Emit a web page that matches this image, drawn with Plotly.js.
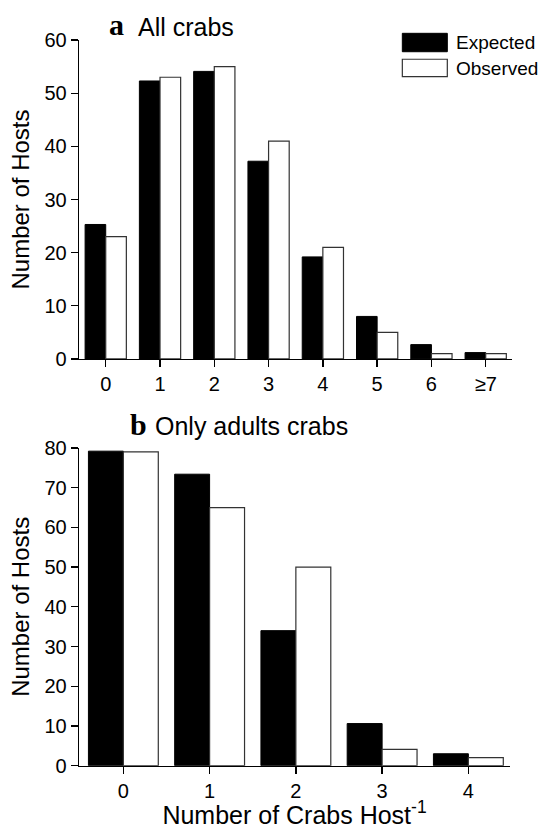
<!DOCTYPE html>
<html>
<head>
<meta charset="utf-8">
<script src="https://cdn.plot.ly/plotly-3.0.1.min.js"></script>
<style>html,body{margin:0;padding:0;background:#fff;}#chart{width:542px;height:829px;}</style>
</head>
<body>
<div id="chart"></div>
<script>
// Panel a: all crabs
const catsA = ["0", "1", "2", "3", "4", "5", "6", "≥7"];
const expectedA = [25.3, 52.3, 54.1, 37.2, 19.2, 8.0, 2.7, 1.2];
const observedA = [23, 53, 55, 41, 21, 5, 1, 1];
// Panel b: only adult crabs
const catsB = ["0", "1", "2", "3", "4"];
const expectedB = [79.2, 73.4, 34, 10.6, 3.0];
const observedB = [79, 65, 50, 4.1, 2];

const FONT = "Liberation Sans, Arial, sans-serif";
const SERIF = "Liberation Serif, Times New Roman, serif";

const blackBar = {color: "#000", line: {color: "#000", width: 1}};
const whiteBar = {color: "#fff", line: {color: "#333", width: 1.2}};
const wA = 0.38, wB = 0.405;

const data = [
  {type: "bar", x: catsA, y: expectedA, name: "Expected", marker: blackBar, width: wA, offset: -wA, xaxis: "x", yaxis: "y", showlegend: false},
  {type: "bar", x: catsA, y: observedA, name: "Observed", marker: whiteBar, width: wA, offset: 0, xaxis: "x", yaxis: "y", showlegend: false},
  {type: "bar", x: catsB, y: expectedB, name: "Expected", marker: blackBar, width: wB, offset: -wB, xaxis: "x2", yaxis: "y2", showlegend: false},
  {type: "bar", x: catsB, y: observedB, name: "Observed", marker: whiteBar, width: wB, offset: 0, xaxis: "x2", yaxis: "y2", showlegend: false}
];

const axBase = {
  showgrid: false, zeroline: false, showline: true, linecolor: "#000", linewidth: 1.3,
  ticks: "outside", ticklen: 7, tickwidth: 1.3, tickcolor: "#000",
  tickfont: {family: FONT, size: 20, color: "#000"}, fixedrange: true
};

const layout = {
  width: 542, height: 829,
  margin: {l: 0, r: 0, t: 0, b: 0},
  paper_bgcolor: "#fff", plot_bgcolor: "#fff",
  font: {family: FONT, color: "#000"},
  barmode: "overlay",
  showlegend: false,
  xaxis: Object.assign({}, axBase, {domain: [0.1458, 0.9446], anchor: "y", type: "category", range: [-0.492, 7.484]}),
  yaxis: Object.assign({}, axBase, {domain: [0.5670, 0.9517], anchor: "x", range: [0, 60], tickvals: [0,10,20,30,40,50,60],
    title: {text: "Number of Hosts", font: {family: FONT, size: 24, color: "#000"}, standoff: 8}}),
  xaxis2: Object.assign({}, axBase, {domain: [0.1458, 0.9410], anchor: "y2", type: "category", range: [-0.514, 4.483],
    title: {text: "Number of Crabs Host<sup>-1</sup>", font: {family: FONT, size: 25, color: "#000"}, standoff: 1}}),
  yaxis2: Object.assign({}, axBase, {domain: [0.0764, 0.4596], anchor: "x2", range: [0, 80], tickvals: [0,10,20,30,40,50,60,70,80],
    title: {text: "Number of Hosts", font: {family: FONT, size: 24, color: "#000"}, standoff: 8}}),
  annotations: [
    {text: "<b>a</b>", xref: "paper", yref: "paper", x: 0.1969, y: 0.9700, xanchor: "left", yanchor: "middle", showarrow: false, font: {family: SERIF, size: 30, color: "#000"}},
    {text: "All crabs", xref: "paper", yref: "paper", x: 0.2504, y: 0.9680, xanchor: "left", yanchor: "middle", showarrow: false, font: {family: FONT, size: 25, color: "#000"}},
    {text: "<b>b</b>", xref: "paper", yref: "paper", x: 0.2362, y: 0.4880, xanchor: "left", yanchor: "middle", showarrow: false, font: {family: SERIF, size: 30, color: "#000"}},
    {text: "Only adults crabs", xref: "paper", yref: "paper", x: 0.2823, y: 0.4861, xanchor: "left", yanchor: "middle", showarrow: false, font: {family: FONT, size: 25, color: "#000"}},
    {text: "Expected", xref: "paper", yref: "paper", x: 0.8376, y: 0.9485, xanchor: "left", yanchor: "middle", showarrow: false, font: {family: FONT, size: 19, color: "#000"}},
    {text: "Observed", xref: "paper", yref: "paper", x: 0.8376, y: 0.9176, xanchor: "left", yanchor: "middle", showarrow: false, font: {family: FONT, size: 19, color: "#000"}}
  ],
  shapes: [
    {type: "rect", xref: "paper", yref: "paper", x0: 0.7423, x1: 0.8253, y0: 0.9376, y1: 0.9598, fillcolor: "#000", line: {color: "#000", width: 1}},
    {type: "rect", xref: "paper", yref: "paper", x0: 0.7423, x1: 0.8253, y0: 0.9075, y1: 0.9285, fillcolor: "#fff", line: {color: "#333", width: 1.2}}
  ]
};

Plotly.newPlot("chart", data, layout, {displayModeBar: false, staticPlot: true});
</script>
</body>
</html>
